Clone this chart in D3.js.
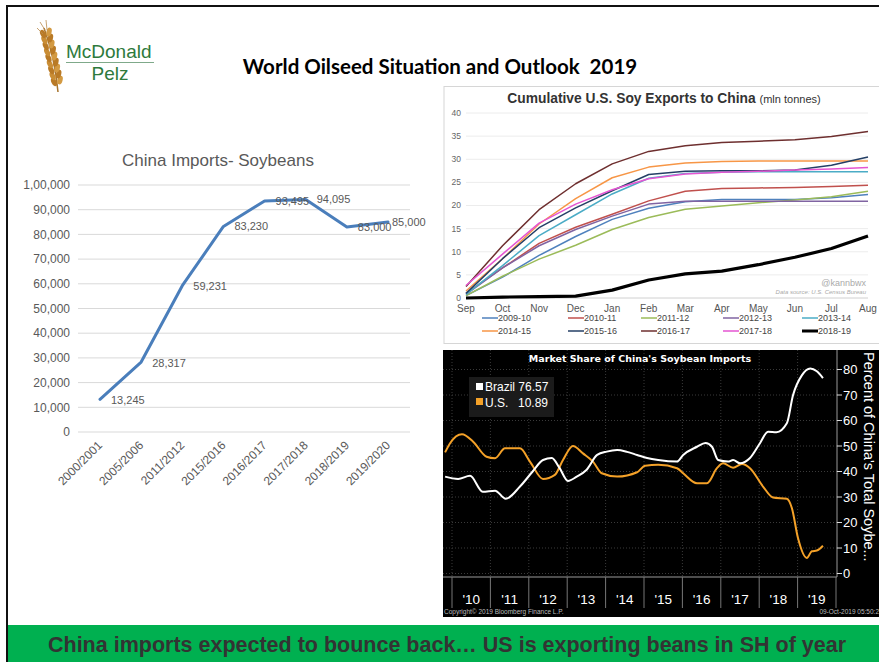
<!DOCTYPE html>
<html><head><meta charset="utf-8">
<script src="https://cdn.jsdelivr.net/npm/d3@7"></script>
<style>body{margin:0;background:#fff;}svg{display:block;}</style>
</head><body><svg id="s" width="879" height="662"></svg>
<script>
// ---------- DATA ----------
const importYears = ["2000/2001","2005/2006","2011/2012","2015/2016","2016/2017","2017/2018","2018/2019","2019/2020"];
const importValues = [13245,28317,59231,83230,93495,94095,83000,85000];
const importTicks = [0,10000,20000,30000,40000,50000,60000,70000,80000,90000,100000];
const importTickLabels = ["0","10,000","20,000","30,000","40,000","50,000","60,000","70,000","80,000","90,000","1,00,000"];
const importLabels = ["13,245","28,317","59,231","83,230","93,495","94,095","83,000","85,000"];

const months = ["Sep","Oct","Nov","Dec","Jan","Feb","Mar","Apr","May","Jun","Jul","Aug"];
const exportTicks = [0,5,10,15,20,25,30,35,40];
const seasons = ["2009-10","2010-11","2011-12","2012-13","2013-14","2014-15","2015-16","2016-17","2017-18","2018-19"];
const exp0910 = [0.5,4.5,9.2,13.3,17.0,19.4,20.8,21.3,21.3,21.3,21.7,22.4];
const exp1011 = [1.0,6.5,11.8,15.3,18.1,21.0,23.1,23.7,23.8,23.9,24.1,24.4];
const exp1112 = [0.5,4.7,8.4,11.4,14.8,17.4,19.2,19.9,20.6,21.2,21.9,23.1];
const exp1213 = [0.8,6.5,11.3,14.8,17.7,20.3,20.9,20.9,20.9,20.9,20.9,20.9];
const exp1314 = [0.8,7.0,13.5,18.0,22.5,25.9,26.9,27.2,27.3,27.3,27.3,27.3];
const exp1415 = [1.5,8.5,16.0,21.5,26.0,28.3,29.2,29.5,29.6,29.6,29.6,29.6];
const exp1516 = [1.0,8.5,15.2,19.5,23.2,26.7,27.4,27.5,27.5,27.7,28.7,30.5];
const exp1617 = [2.5,11.3,19.1,24.7,29.0,31.7,32.9,33.6,33.9,34.2,34.9,36.0];
const exp1718 = [2.7,9.5,16.2,20.3,23.4,25.8,26.8,27.2,27.4,27.7,27.9,28.2];
const exp1819 = [0.0,0.2,0.3,0.4,1.7,3.9,5.2,5.8,7.2,8.8,10.7,13.4];
const seasonColors = ["#4f81bd","#c0504d","#9bbb59","#8064a2","#4bacc6","#f79646","#243f66","#6e2f2f","#e555d2","#000000"];

const brazilYears = [2009.82,2010.16,2010.47,2010.8,2011.12,2011.4,2011.77,2012.1,2012.37,2012.6,2012.8,2013.02,2013.25,2013.5,2013.78,2014.03,2014.3,2014.56,2014.82,2015.08,2015.37,2015.86,2016.02,2016.38,2016.6,2016.77,2016.93,2017.19,2017.32,2017.5,2017.76,2018.02,2018.23,2018.45,2018.72,2018.88,2019.11,2019.33,2019.5,2019.66];
const brazilShare = [38.0,37.1,38.3,32.1,32.5,29.3,34.1,40.0,44.5,45.3,41.4,36.3,38.0,40.6,46.5,47.8,48.4,47.7,46.5,45.3,44.5,43.9,46.5,49.7,51.2,49.7,44.5,43.9,44.5,43.2,45.3,51.1,55.6,55.4,58.9,69.9,77.7,80.4,79.3,76.6];
const usYears = [2009.82,2009.95,2010.26,2010.55,2010.9,2011.12,2011.38,2011.77,2012.03,2012.37,2012.68,2012.89,2013.15,2013.41,2013.67,2013.9,2014.3,2014.82,2015.03,2015.37,2015.86,2016.02,2016.38,2016.64,2016.9,2017.06,2017.32,2017.55,2017.76,2018.1,2018.36,2018.72,2018.85,2019.01,2019.24,2019.37,2019.5,2019.66];
const usShare = [47.5,51.1,54.6,51.7,45.8,45.2,49.1,49.1,43.9,37.1,38.7,44.5,50.0,47.1,43.9,39.3,38.0,39.7,42.3,42.6,41.3,39.3,35.4,35.4,41.3,43.2,41.5,42.9,41.3,34.1,29.8,29.3,25.7,13.9,6.1,8.7,9.0,10.9];
const shareTicks = [0,10,20,30,40,50,60,70,80];
const yearLabels = ["'10","'11","'12","'13","'14","'15","'16","'17","'18","'19"];
const yearStarts = [2010,2011,2012,2013,2014,2015,2016,2017,2018,2019];

// ---------- DRAW ----------
const svg = d3.select("#s");
svg.append("rect").attr("width",879).attr("height",662).attr("fill","#fff");

// slide frame
svg.append("line").attr("x1",7).attr("x2",879).attr("y1",6).attr("y2",6).attr("stroke","#111").attr("stroke-width",2);
svg.append("line").attr("x1",7).attr("x2",7).attr("y1",5).attr("y2",662).attr("stroke","#111").attr("stroke-width",2);

// logo: wheat
const wheat = svg.append("g");
wheat.append("path").attr("d","M58,92 C56,70 52,50 44,28").attr("stroke","#a8752e").attr("stroke-width",1.5).attr("fill","none");
for (let i=0;i<9;i++){
  const t=i/8, cx=57-t*11, cy=82-t*48;
  wheat.append("ellipse").attr("cx",cx-3).attr("cy",cy).attr("rx",2.6).attr("ry",4.5).attr("transform",`rotate(-25,${cx-3},${cy})`).attr("fill",i%2?"#c98d35":"#b97a26");
  wheat.append("ellipse").attr("cx",cx+3).attr("cy",cy-2).attr("rx",2.6).attr("ry",4.5).attr("transform",`rotate(15,${cx+3},${cy-2})`).attr("fill",i%2?"#b97a26":"#d39a42");
}
wheat.append("path").attr("d","M45,30 L40,22 M47,30 L46,20 M43,34 L37,28").attr("stroke","#b98a4e").attr("stroke-width",0.8);
svg.append("text").attr("x",66).attr("y",58).attr("font-family","Liberation Sans, Arial").attr("font-size",19).attr("fill","#2e7a3c").text("McDonald");
svg.append("line").attr("x1",66).attr("x2",154).attr("y1",62.5).attr("y2",62.5).attr("stroke","#7fa98a").attr("stroke-width",1);
svg.append("text").attr("x",110).attr("y",80).attr("text-anchor","middle").attr("font-family","Liberation Sans, Arial").attr("font-size",19).attr("fill","#2e7a3c").text("Pelz");

svg.append("text").attr("x",440).attr("y",74).attr("text-anchor","middle").attr("font-family","Lato, Open Sans, sans-serif").attr("font-weight","bold").attr("font-size",20.5).attr("fill","#000").style("white-space","pre").text("World Oilseed Situation and Outlook  2019");

// ---------- Left chart: China imports ----------
const lx = d3.scalePoint().domain(importYears).range([100,388]);
const ly = d3.scaleLinear().domain([0,100000]).range([432,185]);
const L = svg.append("g");
L.append("text").attr("x",218).attr("y",166).attr("text-anchor","middle").attr("font-family","Liberation Sans, Arial").attr("font-size",17).attr("fill","#595959").text("China Imports- Soybeans");
importTicks.forEach((t,i)=>{
  L.append("line").attr("x1",78).attr("x2",410).attr("y1",ly(t)).attr("y2",ly(t)).attr("stroke","#d9d9d9").attr("stroke-width",1);
  L.append("text").attr("x",70).attr("y",ly(t)).attr("dy","0.35em").attr("text-anchor","end").attr("font-family","Liberation Sans, Arial").attr("font-size",12).attr("fill","#595959").text(importTickLabels[i]);
});
importYears.forEach(c=>{
  L.append("text").attr("transform",`translate(${lx(c)+3},${446}) rotate(-45)`).attr("text-anchor","end").attr("font-family","Liberation Sans, Arial").attr("font-size",12).attr("fill","#595959").text(c);
});
L.append("path").datum(importValues).attr("fill","none").attr("stroke","#4a7ebb").attr("stroke-width",3).attr("stroke-linejoin","round").attr("stroke-linecap","round")
 .attr("d",d3.line().x((d,i)=>lx(importYears[i])).y(d=>ly(d)));
importValues.forEach((v,i)=>{
  L.append("text").attr("x",lx(importYears[i])+(i==7?4:11)).attr("y",ly(v)+(i<2?1:0)).attr("dy","0.35em").attr("font-family","Liberation Sans, Arial").attr("font-size",11).attr("fill","#595959").text(importLabels[i]);
});

// ---------- Top right: cumulative exports ----------
const C = svg.append("g");
C.append("rect").attr("x",444).attr("y",86.5).attr("width",440).attr("height",257).attr("fill","#fff").attr("stroke","#d6d6d6");
const cx = d3.scalePoint().domain(months).range([466,868]);
const cy = d3.scaleLinear().domain([0,40]).range([298,113]);
const title = C.append("text").attr("x",664).attr("y",103).attr("text-anchor","middle").attr("font-family","Liberation Sans, Arial").attr("fill","#333");
title.append("tspan").attr("font-weight","bold").attr("font-size",13.8).text("Cumulative U.S. Soy Exports to China ");
title.append("tspan").attr("font-size",11).text("(mln tonnes)");
exportTicks.forEach(t=>{
  C.append("line").attr("x1",466).attr("x2",868).attr("y1",cy(t)).attr("y2",cy(t)).attr("stroke",t==0?"#d0d0d0":"#ececec");
  C.append("text").attr("x",461).attr("y",cy(t)).attr("dy","0.35em").attr("text-anchor","end").attr("font-family","Liberation Sans, Arial").attr("font-size",8.5).attr("fill","#666").text(t);
});
months.forEach(m=>{
  C.append("text").attr("x",cx(m)).attr("y",312).attr("text-anchor","middle").attr("font-family","Liberation Sans, Arial").attr("font-size",10).attr("fill","#555").text(m);
});
const seriesData = [exp0910,exp1011,exp1112,exp1213,exp1314,exp1415,exp1516,exp1617,exp1718,exp1819];
const cline = d3.line().x((d,i)=>cx(months[i])).y(d=>cy(d));
seriesData.forEach((s,i)=>{
  C.append("path").datum(s).attr("fill","none").attr("stroke",seasonColors[i]).attr("stroke-width",i==9?3.2:1.5).attr("stroke-linejoin","round").attr("d",cline);
});
C.append("text").attr("x",866).attr("y",286).attr("text-anchor","end").attr("font-family","Liberation Sans, Arial").attr("font-size",9).attr("fill","#aaa").text("@kannbwx");
C.append("text").attr("x",866).attr("y",294).attr("text-anchor","end").attr("font-family","Liberation Sans, Arial").attr("font-style","italic").attr("font-size",6).attr("fill","#aaa").text("Data source: U.S. Census Bureau");
const legCols = [482,568,641,723,802];
seasons.forEach((s,i)=>{
  const x0 = legCols[i%5], y0 = i<5?318:331;
  C.append("line").attr("x1",x0).attr("x2",x0+16).attr("y1",y0).attr("y2",y0).attr("stroke",seasonColors[i]).attr("stroke-width",i==9?3:1.5);
  C.append("text").attr("x",x0+16).attr("y",y0).attr("dy","0.35em").attr("font-family","Liberation Sans, Arial").attr("font-size",9).attr("fill","#444").text(s);
});

// ---------- Bottom right: Bloomberg market share ----------
const B = svg.append("g");
B.append("rect").attr("x",443).attr("y",350).attr("width",436).attr("height",267).attr("fill","#000");
const bx = d3.scaleLinear().domain([2010,2020]).range([452,836]);
const by = d3.scaleLinear().domain([0,80]).range([573.5,369.5]);
B.append("clipPath").attr("id","bclip").append("rect").attr("x",443).attr("y",350).attr("width",394).attr("height",227);
shareTicks.forEach(t=>{
  B.append("line").attr("x1",443).attr("x2",837).attr("y1",by(t)).attr("y2",by(t)).attr("stroke","#3a3a3a").attr("stroke-dasharray","1,2");
});
yearStarts.forEach(y=>{
  B.append("line").attr("x1",bx(y)).attr("x2",bx(y)).attr("y1",350).attr("y2",577).attr("stroke","#3a3a3a").attr("stroke-dasharray","1,2");
});
B.append("text").attr("x",640).attr("y",362).attr("text-anchor","middle").attr("font-family","DejaVu Sans, Verdana").attr("font-weight","bold").attr("font-size",9.5).attr("fill","#fff").text("Market Share of China's Soybean Imports");
const bl = d3.line().curve(d3.curveMonotoneX);
B.append("path").datum(usYears.map((t,i)=>[bx(t),by(usShare[i])])).attr("d",bl).attr("fill","none").attr("stroke","#f4a128").attr("stroke-width",2).attr("clip-path","url(#bclip)");
B.append("path").datum(brazilYears.map((t,i)=>[bx(t),by(brazilShare[i])])).attr("d",bl).attr("fill","none").attr("stroke","#fff").attr("stroke-width",2).attr("clip-path","url(#bclip)");
// legend
B.append("rect").attr("x",469).attr("y",377).attr("width",85).attr("height",40).attr("fill","#1b1b1b");
B.append("rect").attr("x",476).attr("y",383).attr("width",7).attr("height",7).attr("fill","#fff");
B.append("rect").attr("x",476).attr("y",398).attr("width",7).attr("height",7).attr("fill","#f4a128");
B.append("text").attr("x",485).attr("y",391).attr("font-family","Liberation Sans, Arial").attr("font-size",12).attr("fill","#fff").text("Brazil 76.57");
B.append("text").attr("x",485).attr("y",407).attr("font-family","Liberation Sans, Arial").attr("font-size",12).attr("fill","#fff").text("U.S.");
B.append("text").attr("x",548).attr("y",407).attr("text-anchor","end").attr("font-family","Liberation Sans, Arial").attr("font-size",12).attr("fill","#fff").text("10.89");
// axes
B.append("line").attr("x1",443).attr("x2",837).attr("y1",577).attr("y2",577).attr("stroke","#999");
B.append("line").attr("x1",837).attr("x2",837).attr("y1",350).attr("y2",577).attr("stroke","#999");
shareTicks.forEach(t=>{
  B.append("line").attr("x1",837).attr("x2",842).attr("y1",by(t)).attr("y2",by(t)).attr("stroke","#ddd");
  B.append("text").attr("x",843).attr("y",by(t)).attr("dy","0.36em").attr("font-family","Liberation Sans, Arial").attr("font-size",13).attr("fill","#fff").text(t);
});
yearStarts.concat([2020]).forEach(y=>{
  B.append("line").attr("x1",bx(y)).attr("x2",bx(y)).attr("y1",577).attr("y2",608).attr("stroke","#777");
});
yearStarts.forEach((y,i)=>{
  B.append("text").attr("x",bx(y+0.5)).attr("y",604).attr("text-anchor","middle").attr("font-family","Liberation Sans, Arial").attr("font-size",13.5).attr("fill","#fff").text(yearLabels[i]);
});
B.append("text").attr("transform","translate(864,352) rotate(90)").attr("font-family","Liberation Sans, Arial").attr("font-size",14.5).attr("fill","#fff").text("Percent of China's Total Soybe...");
B.append("text").attr("x",444).attr("y",614).attr("font-family","Liberation Sans, Arial").attr("font-size",6.5).attr("fill","#bbb").text("Copyright© 2019 Bloomberg Finance L.P.");
B.append("text").attr("x",879).attr("y",614).attr("text-anchor","end").attr("font-family","Liberation Sans, Arial").attr("font-size",6.5).attr("fill","#bbb").text("09-Oct-2019 05:50:2");

// ---------- bottom banner ----------
svg.append("rect").attr("x",8).attr("y",625).attr("width",871).attr("height",37).attr("fill","#00b050");
svg.append("text").attr("x",447).attr("y",652).attr("text-anchor","middle").attr("font-family","Liberation Sans, Arial").attr("font-weight","bold").attr("font-size",21.5).attr("fill","#333").text("China imports expected to bounce back… US is exporting beans in SH of year");
</script></body></html>
